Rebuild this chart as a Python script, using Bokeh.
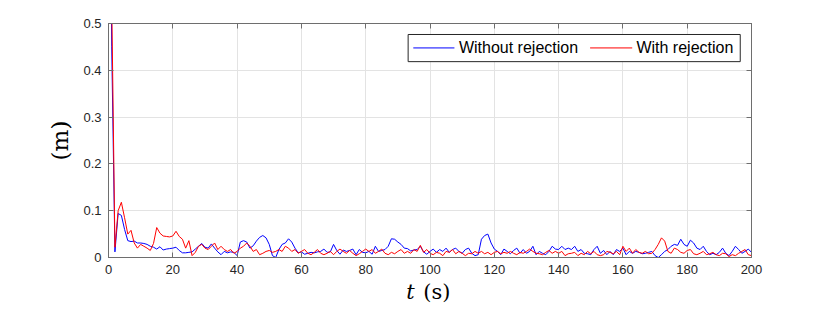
from bokeh.plotting import figure
from bokeh.layouts import column
from bokeh.models import (Range1d, FixedTicker, LinearAxis, CustomJSTickFormatter, Label,
                          BoxAnnotation, Arrow)
from bokeh.embed import file_html
from bokeh.resources import INLINE

# ---- data ----
t = list(range(0, 201))

without_rejection = [
    1.2, 0.45, 0.012, 0.094, 0.09, 0.06, 0.036, 0.034, 0.035, 0.031,
    0.031, 0.030, 0.028, 0.024, 0.022, 0.018, 0.023, 0.016, 0.018, 0.019,
    0.020, 0.022, 0.015, 0.010, 0.010, 0.011, 0.012, 0.018, 0.024, 0.030,
    0.022, 0.020, 0.029, 0.020, 0.012, 0.006, 0.013, 0.010, 0.012, 0.011,
    0.004, 0.033, 0.036, 0.033, 0.020, 0.025, 0.035, 0.043, 0.047, 0.042,
    0.028, 0.004, 0.000, 0.017, 0.028, 0.031, 0.040, 0.033, 0.020, 0.010,
    0.012, 0.007, 0.009, 0.011, 0.010, 0.012, 0.013, 0.018, 0.011, 0.012,
    0.028, 0.015, 0.007, 0.016, 0.013, 0.015, 0.018, 0.006, 0.017, 0.011,
    0.010, 0.013, 0.007, 0.024, 0.013, 0.015, 0.017, 0.024, 0.040, 0.039,
    0.033, 0.028, 0.020, 0.019, 0.014, 0.016, 0.017, 0.024, 0.012, 0.007,
    0.013, 0.018, 0.011, 0.017, 0.013, 0.020, 0.011, 0.017, 0.020, 0.013,
    0.009, 0.017, 0.020, 0.009, 0.004, 0.006, 0.039, 0.047, 0.050, 0.031,
    0.018, 0.013, 0.006, 0.018, 0.013, 0.008, 0.015, 0.020, 0.009, 0.017,
    0.009, 0.013, 0.024, 0.006, 0.013, 0.009, 0.006, 0.013, 0.024, 0.018,
    0.017, 0.024, 0.017, 0.020, 0.017, 0.024, 0.013, 0.017, 0.009, 0.008,
    0.006, 0.017, 0.024, 0.009, 0.015, 0.006, 0.013, 0.006, 0.017, 0.013,
    0.020, 0.006, 0.013, 0.009, 0.013, 0.011, 0.008, 0.009, 0.011, 0.013,
    0.004, 0.000, 0.006, 0.013, 0.017, 0.024, 0.028, 0.026, 0.039, 0.028,
    0.024, 0.037, 0.031, 0.020, 0.017, 0.024, 0.013, 0.006, 0.009, 0.006,
    0.011, 0.020, 0.009, 0.004, 0.013, 0.024, 0.017, 0.009, 0.013, 0.018,
    0.011,
]

with_rejection = [
    1.3, 0.55, 0.022, 0.100, 0.118, 0.085, 0.050, 0.058, 0.031, 0.020,
    0.028, 0.024, 0.020, 0.015, 0.030, 0.064, 0.052, 0.046, 0.045, 0.044,
    0.046, 0.056, 0.045, 0.039, 0.020, 0.036, 0.004, 0.011, 0.024, 0.028,
    0.020, 0.017, 0.024, 0.031, 0.017, 0.024, 0.017, 0.013, 0.017, 0.009,
    0.013, 0.020, 0.024, 0.031, 0.024, 0.013, 0.017, 0.006, 0.009, 0.013,
    0.015, 0.011, 0.013, 0.017, 0.013, 0.024, 0.020, 0.013, 0.017, 0.009,
    0.013, 0.017, 0.009, 0.006, 0.011, 0.017, 0.009, 0.006, 0.009, 0.013,
    0.006, 0.013, 0.018, 0.013, 0.009, 0.015, 0.009, 0.004, 0.008, 0.013,
    0.018, 0.013, 0.017, 0.009, 0.013, 0.018, 0.009, 0.006, 0.011, 0.008,
    0.013, 0.017, 0.009, 0.013, 0.009, 0.017, 0.013, 0.026, 0.011, 0.017,
    0.009, 0.006, 0.011, 0.009, 0.004, 0.013, 0.011, 0.017, 0.008, 0.013,
    0.009, 0.004, 0.009, 0.008, 0.013, 0.009, 0.013, 0.008, 0.011, 0.006,
    0.011, 0.013, 0.008, 0.011, 0.009, 0.013, 0.009, 0.006, 0.011, 0.009,
    0.013, 0.018, 0.013, 0.009, 0.008, 0.006, 0.011, 0.015, 0.009, 0.013,
    0.009, 0.013, 0.004, 0.008, 0.009, 0.011, 0.004, 0.009, 0.006, 0.013,
    0.008, 0.013, 0.006, 0.004, 0.006, 0.013, 0.011, 0.008, 0.013, 0.006,
    0.024, 0.013, 0.020, 0.009, 0.017, 0.011, 0.009, 0.013, 0.008, 0.009,
    0.017, 0.028, 0.042, 0.035, 0.013, 0.009, 0.020, 0.017, 0.011, 0.009,
    0.015, 0.017, 0.008, 0.006, 0.009, 0.013, 0.006, 0.008, 0.011, 0.006,
    0.004, 0.009, 0.008, 0.002, 0.006, 0.004, 0.009, 0.013, 0.017, 0.006,
    0.004,
]

x_ticks = [0, 20, 40, 60, 80, 100, 120, 140, 160, 180, 200]
y_ticks = [0, 0.1, 0.2, 0.3, 0.4, 0.5]
series_names = ["Without rejection", "With rejection"]
series_colors = ["#0000ff", "#ff0000"]

# ---- main figure ----
AX = "#6e6e6e"
TXT = "#262626"
p = figure(width=830, height=279, output_backend="svg", toolbar_location=None,
           x_range=Range1d(0, 200), y_range=Range1d(0, 0.5),
           min_border_left=108, min_border_right=79, min_border_top=23,
           min_border_bottom=22)
p.background_fill_color = "white"
p.border_fill_color = "white"
p.outline_line_color = AX
p.outline_line_width = 1

p.line(t, without_rejection, line_color=series_colors[0], line_width=1)
p.line(t, with_rejection, line_color=series_colors[1], line_width=1)

xfmt = CustomJSTickFormatter(code="return tick.toFixed(0);")
yfmt = CustomJSTickFormatter(code="return tick === 0 ? '0' : tick.toFixed(1);")
blank = CustomJSTickFormatter(code="return '';")

for ax in (p.xaxis[0], p.yaxis[0]):
    ax.axis_line_color = AX
    ax.major_tick_line_color = AX
    ax.minor_tick_line_color = None
    ax.major_tick_in = 5
    ax.major_tick_out = 0
    ax.major_label_text_font = "Liberation Sans"
    ax.major_label_text_font_size = "13px"
    ax.major_label_text_color = TXT
    ax.major_label_standoff = 7

p.xaxis[0].ticker = FixedTicker(ticks=x_ticks)
p.xaxis[0].formatter = xfmt
p.yaxis[0].ticker = FixedTicker(ticks=y_ticks)
p.yaxis[0].formatter = yfmt

p.yaxis[0].axis_label = "(m)"
p.yaxis[0].axis_label_text_font = "DejaVu Serif"
p.yaxis[0].axis_label_text_font_size = "23px"
p.yaxis[0].axis_label_text_font_style = "normal"
p.yaxis[0].axis_label_text_color = "black"
p.yaxis[0].axis_label_standoff = 7

# opposite-side tick marks (box on)
top = LinearAxis(ticker=FixedTicker(ticks=x_ticks), formatter=blank,
                 major_tick_in=5, major_tick_out=0, minor_tick_line_color=None,
                 axis_line_color=AX, major_tick_line_color=AX,
                 major_label_text_font_size="0px", major_label_standoff=0)
right = LinearAxis(ticker=FixedTicker(ticks=y_ticks), formatter=blank,
                   major_tick_in=5, major_tick_out=0, minor_tick_line_color=None,
                   axis_line_color=AX, major_tick_line_color=AX,
                   major_label_text_font_size="0px", major_label_standoff=0)
p.add_layout(top, "above")
p.add_layout(right, "right")

p.xgrid.ticker = FixedTicker(ticks=x_ticks)
p.ygrid.ticker = FixedTicker(ticks=y_ticks)
p.xgrid.grid_line_color = "#e3e3e3"
p.ygrid.grid_line_color = "#e3e3e3"

# ---- legend box (annotations, so the sample lines keep the series colours) ----
LEG_LEFT, LEG_RIGHT, LEG_TOP, LEG_BOTTOM = 93.2, 196.5, 0.4765, 0.4185
LEG_MID = 0.4478
sample_spans = [(94.8, 107.6), (149.8, 162.9)]
text_starts = [109.0, 164.2]

p.add_layout(BoxAnnotation(left=LEG_LEFT, right=LEG_RIGHT, top=LEG_TOP,
                           bottom=LEG_BOTTOM, fill_color="white", fill_alpha=1,
                           line_color=TXT, line_width=1, line_alpha=1))
for (x0, x1), tx, name, col in zip(sample_spans, text_starts, series_names,
                                    series_colors):
    p.add_layout(Arrow(x_start=x0, y_start=LEG_MID, x_end=x1, y_end=LEG_MID,
                       start=None, end=None, line_color=col, line_width=1))
    p.add_layout(Label(x=tx, y=LEG_MID, text=name, text_font="Liberation Sans",
                       text_font_size="16px", text_color="black",
                       text_baseline="middle", text_align="left"))

# ---- strip below holding the x-axis label: italic t + upright (s) ----
q = figure(width=830, height=33, output_backend="svg", toolbar_location=None,
           x_range=p.x_range, y_range=Range1d(0, 1),
           x_axis_type=None, y_axis_type=None,
           min_border_left=108, min_border_right=79, min_border_top=0,
           min_border_bottom=0)
q.outline_line_color = None
q.grid.visible = False
q.add_layout(Label(x=92.6, y=0.62, text="t", text_font="DejaVu Serif",
                   text_font_style="italic", text_font_size="21px",
                   text_color="black", text_baseline="middle"))
q.add_layout(Label(x=97.9, y=0.62, text="(s)", text_font="DejaVu Serif",
                   text_font_size="21px", text_color="black",
                   text_baseline="middle"))

layout = column(p, q, spacing=0)
open("out.html", "w").write(file_html(layout, INLINE))
